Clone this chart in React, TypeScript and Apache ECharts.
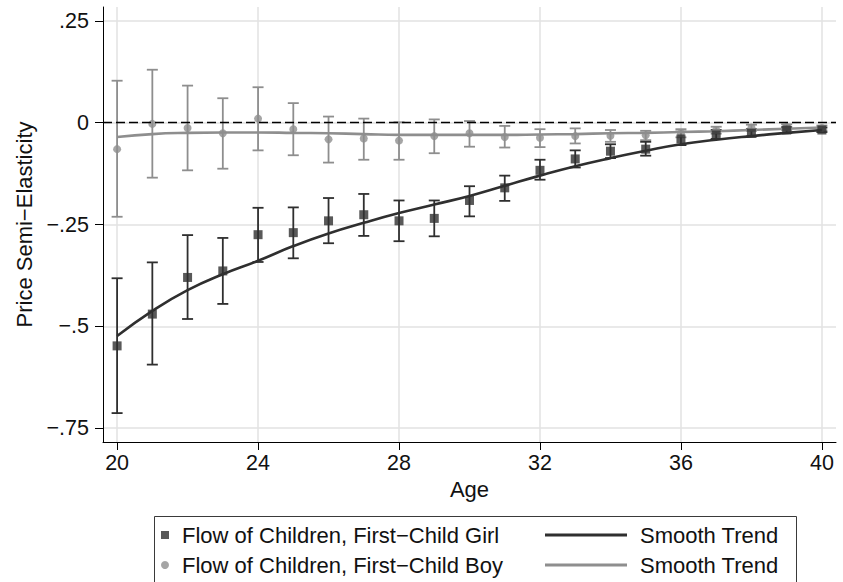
import React, { useEffect, useRef } from "react";
import * as echarts from "echarts";

// Age of the woman (x) and estimated price semi-elasticities (y)
const ages = [20, 21, 22, 23, 24, 25, 26, 27, 28, 29, 30, 31, 32, 33, 34, 35, 36, 37, 38, 39, 40];

const girlEst = [-0.548, -0.470, -0.380, -0.364, -0.275, -0.270, -0.241, -0.226, -0.241, -0.235, -0.191, -0.160, -0.117, -0.089, -0.070, -0.065, -0.040, -0.030, -0.026, -0.018, -0.018];
const girlLo = [-0.713, -0.594, -0.482, -0.445, -0.342, -0.333, -0.296, -0.278, -0.291, -0.279, -0.230, -0.192, -0.140, -0.110, -0.087, -0.081, -0.055, -0.040, -0.034, -0.025, -0.023];
const girlHi = [-0.382, -0.343, -0.276, -0.283, -0.209, -0.208, -0.185, -0.175, -0.191, -0.191, -0.156, -0.130, -0.091, -0.068, -0.053, -0.047, -0.022, -0.018, -0.016, -0.011, -0.012];
const girlTrend = [-0.524, -0.462, -0.411, -0.372, -0.339, -0.303, -0.272, -0.246, -0.222, -0.201, -0.180, -0.155, -0.130, -0.107, -0.087, -0.069, -0.053, -0.042, -0.033, -0.025, -0.018];

const boyEst = [-0.065, -0.003, -0.013, -0.026, 0.010, -0.016, -0.041, -0.039, -0.044, -0.033, -0.026, -0.035, -0.037, -0.033, -0.032, -0.031, -0.026, -0.018, -0.012, -0.011, -0.013];
const boyLo = [-0.231, -0.135, -0.117, -0.113, -0.068, -0.080, -0.098, -0.091, -0.091, -0.075, -0.059, -0.061, -0.060, -0.051, -0.047, -0.043, -0.036, -0.027, -0.020, -0.018, -0.019];
const boyHi = [0.103, 0.130, 0.091, 0.060, 0.087, 0.048, 0.015, 0.010, 0.001, 0.008, 0.004, -0.008, -0.016, -0.014, -0.018, -0.020, -0.016, -0.010, -0.005, -0.004, -0.007];
const boyTrend = [-0.035, -0.028, -0.025, -0.024, -0.024, -0.025, -0.026, -0.028, -0.030, -0.030, -0.030, -0.030, -0.029, -0.028, -0.026, -0.025, -0.023, -0.021, -0.018, -0.015, -0.012];

const xTicks = [20, 24, 28, 32, 36, 40];
const yTicks = [-0.75, -0.5, -0.25, 0, 0.25];
const yTickLabels = ["\u2212.75", "\u2212.5", "\u2212.25", "0", ".25"];

const DARK = "#2f2f2f";
const GREY = "#8e8e8e";
const FONT = "'Liberation Sans', Arial, Helvetica, sans-serif";
const TEXT = "#111111";

const SER_GIRL = "Flow of Children, First\u2212Child Girl";
const SER_BOY = "Flow of Children, First\u2212Child Boy";
const SER_GIRL_TREND = "girlTrend";
const SER_BOY_TREND = "boyTrend";

function errorBars(lo: number[], hi: number[], color: string, width: number) {
  return {
    type: "custom",
    silent: true,
    data: ages.map((a, i) => [a, lo[i], hi[i]]),
    encode: { x: 0, y: [1, 2] },
    renderItem: (_params: any, api: any) => {
      const x = api.value(0);
      const pLo = api.coord([x, api.value(1)]);
      const pHi = api.coord([x, api.value(2)]);
      const hw = 5.5;
      const style = { stroke: color, lineWidth: width };
      return {
        type: "group",
        children: [
          { type: "line", shape: { x1: pLo[0], y1: pLo[1], x2: pHi[0], y2: pHi[1] }, style },
          { type: "line", shape: { x1: pLo[0] - hw, y1: pLo[1], x2: pLo[0] + hw, y2: pLo[1] }, style },
          { type: "line", shape: { x1: pHi[0] - hw, y1: pHi[1], x2: pHi[0] + hw, y2: pHi[1] }, style },
        ],
      };
    },
    z: 2,
  };
}

export default function App() {
  const ref = useRef<HTMLDivElement>(null);

  useEffect(() => {
    if (!ref.current) return;
    const chart = echarts.init(ref.current, undefined, { renderer: "svg" });

    const option: any = {
      animation: false,
      backgroundColor: "#ffffff",
      textStyle: { fontFamily: FONT },
      grid: { left: 103, right: 7, top: 7, bottom: 140, containLabel: false },
      xAxis: {
        type: "value",
        min: 19.6,
        max: 40.4,
        name: "Age",
        nameLocation: "middle",
        nameGap: 33,
        nameTextStyle: { fontFamily: FONT, fontSize: 22, color: TEXT },
        axisLine: { show: true, onZero: false, lineStyle: { color: "#000", width: 1 } },
        axisTick: { show: true, length: 8, customValues: xTicks, lineStyle: { color: "#000", width: 1 } },
        axisLabel: { customValues: xTicks, fontFamily: FONT, fontSize: 21.5, color: TEXT, margin: 10 },
        splitLine: { show: true, lineStyle: { color: "#e2e2e2", width: 1.5 } },
      },
      yAxis: {
        type: "value",
        min: -0.784,
        max: 0.284,
        name: "Price Semi\u2212Elasticity",
        nameLocation: "middle",
        nameGap: 64,
        nameTextStyle: { fontFamily: FONT, fontSize: 22, color: TEXT },
        axisLine: { show: true, onZero: false, lineStyle: { color: "#000", width: 1 } },
        axisTick: { show: true, length: 8, customValues: yTicks, lineStyle: { color: "#000", width: 1 } },
        axisLabel: {
          customValues: yTicks,
          fontFamily: FONT,
          fontSize: 21.5,
          color: TEXT,
          margin: 14,
          formatter: (v: number) => {
            const i = yTicks.findIndex((t) => Math.abs(t - v) < 1e-9);
            return i >= 0 ? yTickLabels[i] : "";
          },
        },
        splitLine: { show: true, lineStyle: { color: "#e2e2e2", width: 1.5 } },
      },
      legend: [
        {
          orient: "vertical",
          left: 161,
          top: 524,
          padding: 0,
          itemWidth: 8,
          itemHeight: 8,
          itemGap: 8,
          data: [
            { name: SER_GIRL, icon: "rect" },
            { name: SER_BOY, icon: "circle" },
          ],
          textStyle: { fontFamily: FONT, fontSize: 22, color: TEXT, lineHeight: 22, padding: [0, 0, 0, 8] },
          selectedMode: false,
        },
        {
          orient: "vertical",
          left: 545,
          top: 524,
          padding: 0,
          itemWidth: 82,
          itemHeight: 3,
          itemGap: 8,
          data: [
            { name: SER_GIRL_TREND, icon: "rect" },
            { name: SER_BOY_TREND, icon: "rect" },
          ],
          formatter: () => "Smooth Trend",
          textStyle: { fontFamily: FONT, fontSize: 22, color: TEXT, lineHeight: 22, padding: [0, 0, 0, 8] },
          selectedMode: false,
        },
      ],
      graphic: [
        {
          type: "rect",
          left: 152,
          top: 514,
          shape: { width: 642, height: 100 },
          style: { fill: "none", stroke: "#3a3a3a", lineWidth: 1 },
          silent: true,
        },
      ],
      series: [
        errorBars(boyLo, boyHi, GREY, 1.8),
        {
          name: SER_BOY,
          type: "scatter",
          symbol: "circle",
          symbolSize: 8,
          itemStyle: { color: GREY },
          data: ages.map((a, i) => [a, boyEst[i]]),
          z: 3,
          markLine: {
            silent: true,
            symbol: "none",
            label: { show: false },
            lineStyle: { color: "#000", type: [9, 4], width: 1.3 },
            data: [{ yAxis: 0 }],
          },
        },
        {
          name: SER_BOY_TREND,
          type: "line",
          smooth: true,
          showSymbol: false,
          lineStyle: { color: GREY, width: 2.6 },
          itemStyle: { color: GREY },
          data: ages.map((a, i) => [a, boyTrend[i]]),
          z: 4,
        },
        errorBars(girlLo, girlHi, DARK, 1.8),
        {
          name: SER_GIRL,
          type: "scatter",
          symbol: "rect",
          symbolSize: 9,
          itemStyle: { color: DARK },
          data: ages.map((a, i) => [a, girlEst[i]]),
          z: 5,
        },
        {
          name: SER_GIRL_TREND,
          type: "line",
          smooth: true,
          showSymbol: false,
          lineStyle: { color: DARK, width: 2.6 },
          itemStyle: { color: DARK },
          data: ages.map((a, i) => [a, girlTrend[i]]),
          z: 6,
        },
      ],
    };

    chart.setOption(option);
    return () => chart.dispose();
  }, []);

  return <div ref={ref} style={{ width: 843, height: 582, position: "absolute", left: 0, top: 0 }} />;
}
